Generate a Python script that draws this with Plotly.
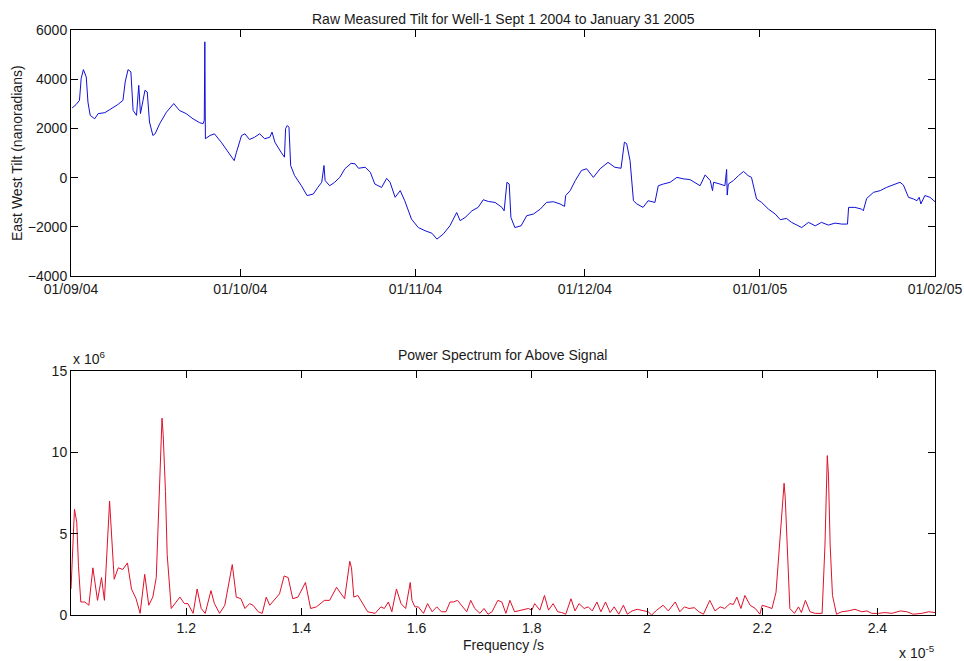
import pandas as pd
import plotly.graph_objects as go

# ---------------- Data: raw tilt (days after 2004-09-01, nanoradians) ----------------
tilt_days = [
    0.2, 0.9, 1.5, 1.8, 2.2, 2.7, 3.0, 3.4, 4.2, 4.8, 6.0, 7.1, 8.3, 9.2, 9.6, 10.1, 10.6,
    11.0, 11.6, 12.0, 12.3, 13.1, 13.5, 13.9, 14.5, 14.9, 15.7, 16.9, 18.2, 19.2, 20.4,
    21.6, 22.8, 23.4, 23.6, 23.7, 23.8, 24.6, 25.4, 26.6, 27.8, 28.9, 29.3, 30.2, 30.8,
    31.6, 32.5, 33.4, 34.3, 35.2, 35.6, 36.1, 37.2, 37.8, 38.0, 38.3, 38.6, 38.9, 39.6,
    40.8, 41.8, 42.9, 43.7, 44.4, 44.8, 45.0, 45.8, 46.7, 47.6, 48.5, 49.6, 50.3, 50.9,
    52.1, 53.0, 53.8, 55.0, 55.9, 56.5, 57.4, 58.3, 59.1, 60.3, 61.5, 62.7, 63.9, 64.8,
    65.9, 67.1, 68.3, 68.9, 69.8, 71.0, 72.1, 73.0, 73.9, 75.1, 76.3, 76.7, 77.2, 77.6,
    77.9, 78.6, 79.7, 80.7, 81.9, 83.1, 84.2, 85.4, 86.6, 87.4, 87.6, 88.4, 89.3, 90.4,
    91.3, 92.5, 93.7, 95.1, 96.3, 97.4, 98.0, 98.4, 99.0, 99.6, 100.2, 101.3, 102.2,
    103.4, 104.0, 104.9, 106.1, 107.3, 108.4, 109.6, 110.5, 111.4, 112.3, 113.2, 113.6,
    113.8, 114.9, 115.8, 116.1, 116.2, 116.4, 117.3, 118.2, 119.1, 119.9, 120.5, 121.4,
    122.3, 123.5, 124.7, 125.6, 126.7, 127.6, 129.4, 130.6, 131.8, 132.9, 134.1, 135.3,
    136.5, 137.5, 137.7, 138.8, 140.0, 140.3, 140.9, 142.1, 143.3, 144.4, 145.6, 146.8,
    147.4, 148.3, 149.2, 149.8, 150.2, 150.5, 151.2, 152.1, 153.0,
]
tilt_values = [
    2830, 2970, 3140, 4030, 4390, 4090, 3070, 2530, 2390, 2600, 2640, 2800, 2970, 3140, 3890, 4390, 4300,
    2730, 2530, 3750, 2600, 3550, 3480, 2260, 1710, 1780, 2190, 2660, 3010, 2730, 2600,
    2390, 2230, 2190, 2330, 5520, 1580, 1710, 1780, 1440, 1030, 690, 1030, 1710, 1780,
    1550, 1640, 1780, 1580, 1640, 1850, 1440, 1030, 830, 1990, 2120, 2050, 490, 80,
    -330, -730, -670, -400, -190, 490, -120, -330, -190, 10, 360, 580, 560, 380,
    420, 220, -260, -400, -30, -190, -800, -530, -940, -1690, -2030, -2160, -2260, -2500,
    -2300, -1960, -1420, -1750, -1620, -1350, -1210, -900, -970, -1010, -1210, -1350, -190, -260,
    -1620, -2030, -1960, -1550, -1480, -1280, -1010, -980, -1070, -1170, -730, -530, -120, 290,
    360, 10, 360, 620, 420, 380, 1440, 1380, 690, -940, -1070, -1210, -940,
    -1010, -330, -260, -190, 10, -50, -80, -190, -330, 110, -120, -530,
    -190, -260, -330, 330, -710, -260, -120, 80, 250, 80, 10, -870,
    -1010, -1280, -1480, -1710, -1660, -1820, -2030, -1820, -1960, -1820, -1930, -1850,
    -1890, -1890, -1210, -1210, -1280, -1350, -850, -600, -530, -400, -300, -190,
    -300, -800, -870, -940, -800, -1070, -730, -800, -980,
]

# ---------------- Data: power spectrum (frequency in 1e-5 Hz, power in 1e6) ----------------
freq_e5 = [
    1.000, 1.006, 1.010, 1.013, 1.017, 1.024, 1.031, 1.038, 1.046, 1.053, 1.058, 1.067, 1.075,
    1.082, 1.090, 1.098, 1.105, 1.113, 1.120, 1.128, 1.135, 1.142, 1.148, 1.152, 1.158, 1.160,
    1.164, 1.167, 1.174, 1.189, 1.197, 1.203, 1.212, 1.219, 1.226, 1.233, 1.243, 1.249, 1.258,
    1.267, 1.280, 1.287, 1.295, 1.302, 1.310, 1.316, 1.325, 1.332, 1.339, 1.345, 1.354, 1.362,
    1.370, 1.377, 1.385, 1.394, 1.407, 1.416, 1.426, 1.440, 1.449, 1.461, 1.475, 1.484, 1.487,
    1.491, 1.498, 1.505, 1.515, 1.528, 1.538, 1.544, 1.551, 1.557, 1.565, 1.573, 1.581, 1.589,
    1.592, 1.597, 1.603, 1.612, 1.619, 1.627, 1.635, 1.643, 1.651, 1.658, 1.664, 1.671, 1.681,
    1.687, 1.694, 1.701, 1.710, 1.717, 1.724, 1.731, 1.741, 1.748, 1.755, 1.762, 1.770, 1.777,
    1.785, 1.794, 1.800, 1.805, 1.814, 1.822, 1.829, 1.837, 1.845, 1.852, 1.859, 1.868, 1.875,
    1.882, 1.891, 1.898, 1.905, 1.913, 1.920, 1.928, 1.936, 1.943, 1.951, 1.959, 1.966, 1.974,
    1.983, 1.993, 2.002, 2.008, 2.017, 2.028, 2.037, 2.049, 2.057, 2.065, 2.073, 2.082, 2.090,
    2.098, 2.109, 2.118, 2.127, 2.135, 2.144, 2.150, 2.156, 2.163, 2.170, 2.179, 2.188, 2.196,
    2.200, 2.209, 2.217, 2.224, 2.231, 2.238, 2.240, 2.244, 2.248, 2.256, 2.263, 2.268, 2.275,
    2.283, 2.292, 2.304, 2.309, 2.313, 2.315, 2.318, 2.322, 2.329, 2.338, 2.349, 2.361, 2.373,
    2.382, 2.390, 2.402, 2.413, 2.425, 2.440, 2.451, 2.462, 2.477, 2.489, 2.500,
]
power_e6 = [
    1.6, 6.5, 5.7, 3.0, 0.8, 0.8, 0.6, 2.9, 0.9, 2.3, 0.9, 7.0, 2.2,
    2.9, 2.8, 3.2, 1.6, 1.0, 0.1, 2.5, 0.6, 1.1, 2.3, 6.6, 12.1, 11.1,
    7.6, 3.7, 0.4, 1.1, 0.7, 0.7, 0.1, 1.6, 0.4, 0.1, 1.5, 0.7, 0.1,
    0.6, 3.1, 1.1, 1.0, 0.4, 0.7, 0.6, 0.2, 0.1, 1.1, 0.6, 1.0, 1.3,
    2.4, 2.3, 1.0, 1.1, 2.0, 0.4, 0.5, 0.9, 0.9, 1.7, 1.0, 3.3, 2.9,
    1.1, 1.2, 0.8, 0.2, 0.1, 0.5, 0.4, 0.8, 0.2, 1.6, 0.7, 0.4, 2.0,
    0.9, 0.5, 0.5, 0.1, 0.7, 0.2, 0.5, 0.2, 0.2, 0.8, 0.8, 0.9, 0.5,
    0.2, 0.9, 0.4, 0.1, 0.4, 0.05, 0.2, 0.9, 0.8, 0.1, 0.9, 0.2, 0.25,
    0.3, 0.4, 0.3, 0.7, 0.3, 1.2, 0.3, 0.7, 0.2, 0.15, 0.05, 1.0, 0.25,
    0.7, 0.4, 0.5, 0.25, 0.8, 0.2, 0.8, 0.15, 0.5, 0.05, 0.6, 0.05, 0.25,
    0.35, 0.25, 0.2, 0.0, 0.3, 0.6, 0.25, 0.8, 0.2, 0.5, 0.4, 0.45, 0.2,
    0.05, 0.9, 0.25, 0.5, 0.4, 0.7, 0.65, 1.1, 0.4, 1.2, 0.6, 0.4, 0.05,
    0.6, 0.5, 0.4, 1.4, 4.9, 8.1, 7.2, 3.7, 0.4, 0.1, 0.5, 0.15, 0.9,
    0.2, 0.1, 0.1, 4.3, 9.8, 8.6, 4.3, 1.2, 0.05, 0.2, 0.25, 0.35, 0.2,
    0.25, 0.1, 0.1, 0.15, 0.1, 0.25, 0.2, 0.05, 0.1, 0.2, 0.15,
]

tilt_yticks = [-4000, -2000, 0, 2000, 4000, 6000]
power_yticks = [0, 5, 10, 15]
freq_ticks = [1.2, 1.4, 1.6, 1.8, 2.0, 2.2, 2.4]
freq_ticktext = ["1.2", "1.4", "1.6", "1.8", "2", "2.2", "2.4"]

start = pd.Timestamp("2004-09-01")
tilt_dates = start + pd.to_timedelta(tilt_days, unit="D")

W, H = 964, 661
FONT = "Liberation Sans, Arial, Helvetica, sans-serif"
TXT = "#1a1a1a"


def px(x):
    return x / W


def py(y):
    return 1 - y / H


fig = go.Figure()
fig.add_trace(go.Scatter(x=tilt_dates, y=tilt_values, mode="lines",
                         line=dict(color="#1010d8", width=1), xaxis="x", yaxis="y",
                         hoverinfo="skip"))
fig.add_trace(go.Scatter(x=freq_e5, y=power_e6, mode="lines",
                         line=dict(color="#e0102a", width=1), xaxis="x2", yaxis="y2",
                         hoverinfo="skip"))

axis_common = dict(showline=True, linecolor="black", linewidth=1, mirror="ticks",
                   ticks="inside", ticklen=7, tickcolor="black", showgrid=False,
                   zeroline=False, automargin=False,
                   tickfont=dict(family=FONT, size=14, color=TXT))

xdom = [px(71), px(935)]
fig.update_layout(
    width=W, height=H,
    margin=dict(l=0, r=0, t=0, b=0),
    paper_bgcolor="white", plot_bgcolor="white",
    showlegend=False,
    xaxis=dict(axis_common, domain=xdom, anchor="y", type="date",
               range=["2004-09-01", "2005-02-01"], tick0="2004-09-01", dtick="M1",
               tickformat="%d/%m/%y"),
    yaxis=dict(axis_common, domain=[py(276), py(30)], anchor="x",
               range=[-4000, 6000], tickvals=tilt_yticks),
    xaxis2=dict(axis_common, domain=xdom, anchor="y2",
                range=[1.0, 2.5], tickvals=freq_ticks, ticktext=freq_ticktext),
    yaxis2=dict(axis_common, domain=[py(615), py(371)], anchor="x2",
                range=[0, 15], tickvals=power_yticks),
)

ann_font = dict(family=FONT, size=14, color=TXT)
annotations = [
    dict(text="Raw Measured Tilt for Well-1 Sept 1 2004 to January 31 2005",
         x=px(503), y=py(19), xanchor="center", yanchor="middle"),
    dict(text="East West Tilt (nanoradians)", x=px(17), y=py(153), textangle=-90,
         xanchor="center", yanchor="middle"),
    dict(text="Power Spectrum for Above Signal", x=px(502), y=py(355),
         xanchor="center", yanchor="middle"),
    dict(text="x 10<sup>6</sup>", x=px(71), y=py(358), xanchor="left", yanchor="middle"),
    dict(text="Frequency /s", x=px(503), y=py(645), xanchor="center", yanchor="middle"),
    dict(text="x 10<sup>-5</sup>", x=px(897), y=py(652), xanchor="left", yanchor="middle"),
]
for a in annotations:
    a.update(xref="paper", yref="paper", showarrow=False, font=ann_font)
fig.update_layout(annotations=annotations)

fig.write_html("out.html", config={"displayModeBar": False})
